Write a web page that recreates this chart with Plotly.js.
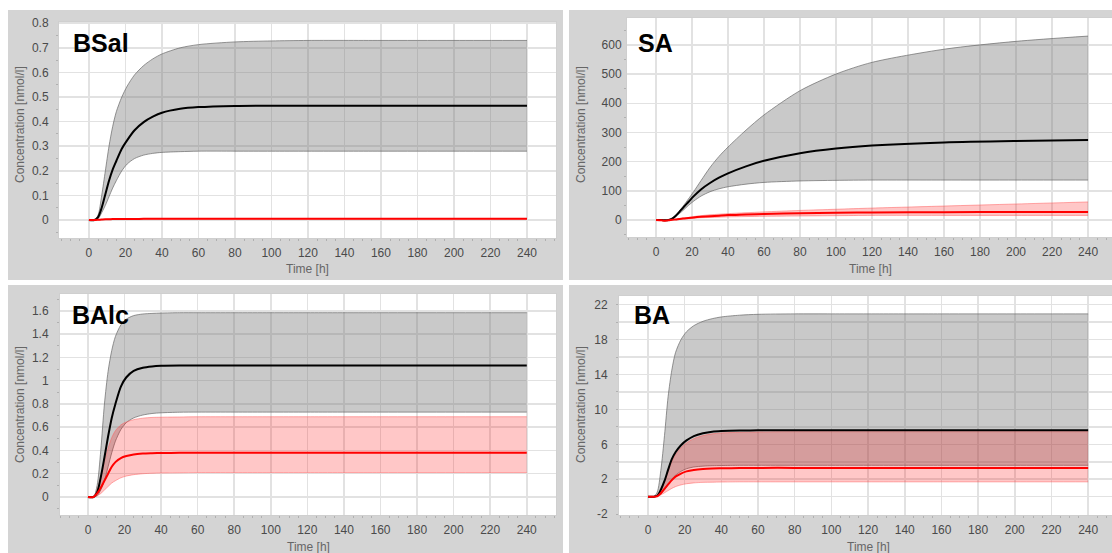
<!DOCTYPE html>
<html>
<head>
<meta charset="utf-8">
<script src="https://cdn.plot.ly/plotly-3.0.1.min.js"></script>
<style>html,body{margin:0;padding:0;background:#fff;}#chart{width:1112px;height:553px;}</style>
</head>
<body>
<div id="chart"></div>
<script>
// Time points [h]
const timeH = [0,3,5,7,9,11,13,15,18,21,25,30,35,40,50,60,80,100,120,160,200,240];

// BSal [nmol/l]
const bsalMean  = [0,0,0.012,0.05,0.105,0.16,0.205,0.24,0.29,0.325,0.365,0.398,0.42,0.436,0.452,0.459,0.464,0.465,0.465,0.465,0.465,0.465];
const bsalUpper = [0,0,0.02,0.1,0.2,0.3,0.38,0.44,0.5,0.545,0.59,0.628,0.655,0.675,0.7,0.713,0.724,0.728,0.73,0.73,0.73,0.73];
const bsalLower = [0,0,0.005,0.03,0.06,0.095,0.13,0.16,0.2,0.228,0.25,0.264,0.271,0.275,0.278,0.28,0.28,0.28,0.28,0.28,0.28,0.28];
const bsalRedMean  = [0,0,0.001,0.002,0.003,0.003,0.004,0.004,0.004,0.004,0.004,0.005,0.005,0.005,0.005,0.005,0.005,0.005,0.005,0.005,0.005,0.005];
const bsalRedUpper = [0,0,0.001,0.002,0.003,0.004,0.005,0.005,0.005,0.005,0.006,0.006,0.006,0.006,0.006,0.006,0.006,0.006,0.006,0.006,0.006,0.006];
const bsalRedLower = [0,0,0.001,0.002,0.002,0.003,0.003,0.003,0.003,0.003,0.004,0.004,0.004,0.004,0.004,0.004,0.004,0.004,0.004,0.004,0.004,0.004];

// SA [nmol/l]
const saMean  = [0,0,-1,0,5,15,28,42,62,82,105,127,145,160,184,203,229,245,255,266,271,274];
const saUpper = [0,0,-1,1,6,17,31,47,72,98,135,180,218,250,308,360,443,500,540,585,612,630];
const saLower = [0,0,-1,0,4,12,22,33,50,65,82,97,107,114,123,129,134,136,137,137,137,137];
const saRedMean  = [0,-1,-2,-1,1,2,4,5,7,9,11,13,15,17,19,21,23,25,26,27,28,28];
const saRedUpper = [0,-1,-2,-1,1,3,5,7,9,12,15,18,20,22,25,28,33,37,41,48,55,62];
const saRedLower = [0,-1,-2,-1,1,2,3,4,5,6,8,9,10,11,12,13,14,15,16,16,16,16];

// BAlc [nmol/l]
const balcMean  = [0,0,0.04,0.17,0.34,0.52,0.68,0.8,0.95,1.03,1.085,1.112,1.123,1.128,1.13,1.13,1.13,1.13,1.13,1.13,1.13,1.13];
const balcUpper = [0,0,0.1,0.4,0.8,1.08,1.26,1.38,1.48,1.53,1.56,1.574,1.579,1.582,1.585,1.585,1.585,1.585,1.585,1.585,1.585,1.585];
const balcLower = [0,0,0.01,0.06,0.14,0.26,0.38,0.48,0.58,0.64,0.68,0.705,0.718,0.724,0.729,0.73,0.73,0.73,0.73,0.73,0.73,0.73];
const balcRedMean  = [0,0,0.03,0.08,0.14,0.2,0.26,0.3,0.335,0.352,0.366,0.373,0.376,0.378,0.38,0.38,0.38,0.38,0.38,0.38,0.38,0.38];
const balcRedUpper = [0,0,0.06,0.17,0.3,0.42,0.51,0.57,0.62,0.645,0.665,0.678,0.684,0.686,0.688,0.69,0.69,0.69,0.69,0.69,0.69,0.69];
const balcRedLower = [0,0,0.01,0.03,0.06,0.09,0.12,0.14,0.165,0.18,0.192,0.2,0.204,0.206,0.208,0.21,0.21,0.21,0.21,0.21,0.21,0.21];

// BA [nmol/l]
const baMean  = [0,0,0.1,0.8,1.8,3.1,4.3,5.1,5.9,6.45,6.95,7.27,7.45,7.52,7.58,7.6,7.6,7.6,7.6,7.6,7.6,7.6];
const baUpper = [0,0,0.5,3,7,11.5,14.5,16.5,18,18.9,19.6,20.1,20.4,20.6,20.8,20.9,20.95,20.95,20.95,20.95,20.95,20.95];
const baLower = [0,0,0.05,0.3,0.8,1.4,2,2.45,2.9,3.2,3.4,3.5,3.55,3.57,3.6,3.6,3.6,3.6,3.6,3.6,3.6,3.6];
const baRedMean  = [0,0,0.05,0.4,0.9,1.4,1.9,2.3,2.65,2.9,3.07,3.18,3.23,3.25,3.28,3.3,3.3,3.3,3.3,3.3,3.3,3.3];
const baRedUpper = [0,0,0.1,0.75,1.7,2.9,4.0,4.8,5.6,6.15,6.65,7.0,7.2,7.3,7.38,7.42,7.45,7.45,7.45,7.45,7.45,7.45];
const baRedLower = [0,0,0.03,0.2,0.45,0.7,0.95,1.15,1.35,1.48,1.58,1.64,1.66,1.68,1.7,1.7,1.7,1.7,1.7,1.7,1.7,1.7];

// BA y-axis ticks (hyphen-minus as in the original)
const baTickVals   = [-2, 2, 6, 10, 14, 18, 22];
const baTickLabels = ['-2', '2', '6', '10', '14', '18', '22'];

const panelNames = ['BSal','SA','BAlc','BA'];
const xTitle = 'Time [h]';
const yTitle = 'Concentration [nmol/l]';

const panels = [
  {xa:'x',  ya:'y',  d:[bsalMean,bsalUpper,bsalLower,bsalRedMean,bsalRedUpper,bsalRedLower]},
  {xa:'x2', ya:'y2', d:[saMean,saUpper,saLower,saRedMean,saRedUpper,saRedLower]},
  {xa:'x3', ya:'y3', d:[balcMean,balcUpper,balcLower,balcRedMean,balcRedUpper,balcRedLower]},
  {xa:'x4', ya:'y4', d:[baMean,baUpper,baLower,baRedMean,baRedUpper,baRedLower]}
];

const traces = [];
const ln = {shape:'spline', smoothing:0.8};
panels.forEach(p => {
  const [m,u,l,rm,ru,rl] = p.d;
  traces.push({x:timeH, y:l, xaxis:p.xa, yaxis:p.ya, mode:'lines', line:Object.assign({color:'rgba(105,105,105,0.7)', width:1}, ln), hoverinfo:'skip', showlegend:false});
  traces.push({x:timeH, y:u, xaxis:p.xa, yaxis:p.ya, mode:'lines', fill:'tonexty', fillcolor:'rgba(120,120,120,0.40)', line:Object.assign({color:'rgba(105,105,105,0.7)', width:1}, ln), hoverinfo:'skip', showlegend:false});
  traces.push({x:timeH, y:rl, xaxis:p.xa, yaxis:p.ya, mode:'lines', line:Object.assign({color:'rgba(255,90,90,0.5)', width:1}, ln), hoverinfo:'skip', showlegend:false});
  traces.push({x:timeH, y:ru, xaxis:p.xa, yaxis:p.ya, mode:'lines', fill:'tonexty', fillcolor:'rgba(255,0,0,0.22)', line:Object.assign({color:'rgba(255,90,90,0.5)', width:1}, ln), hoverinfo:'skip', showlegend:false});
  traces.push({x:timeH, y:m, xaxis:p.xa, yaxis:p.ya, mode:'lines', line:Object.assign({color:'#000000', width:2}, ln), showlegend:false});
  traces.push({x:timeH, y:rm, xaxis:p.xa, yaxis:p.ya, mode:'lines', line:Object.assign({color:'#ff0000', width:2}, ln), showlegend:false});
});

const W = 1112, H = 553;
const px = v => v / W;
const py = v => 1 - v / H;
const tickFont = {family:'Arial, Liberation Sans, sans-serif', size:12, color:'#4a4a4a'};

function xAxis(domain, range, anchor) {
  return {domain, range, anchor, tick0:0, dtick:20, showgrid:true, gridcolor:'#e2e2e2', gridwidth:1.5,
    zeroline:false, showline:true, linecolor:'#cfcfcf', linewidth:1, mirror:true, ticks:'',
    tickfont:tickFont, ticklabelstandoff:4,
    minor:{ticks:'outside', ticklen:2, tickcolor:'#b0b0b0', dtick:5, showgrid:false}, fixedrange:true};
}
function yAxis(domain, range, anchor, tick0, dtick, standoff, minor) {
  const a = {domain, range, anchor, tick0, dtick, showgrid:true, gridcolor:'#e2e2e2', gridwidth:1.5,
    zeroline:false, showline:true, linecolor:'#cfcfcf', linewidth:1, mirror:true, ticks:'',
    tickfont:tickFont, ticklabelstandoff:standoff, fixedrange:true};
  a.minor = minor || {ticks:'outside', ticklen:2, tickcolor:'#b0b0b0', dtick:dtick/2, showgrid:false};
  return a;
}

const gap = '#ffffff';
const shapes = [
  {type:'rect', xref:'paper', yref:'paper', x0:-0.01, x1:px(8), y0:-0.01, y1:1.01, fillcolor:gap, line:{width:0}, layer:'below'},
  {type:'rect', xref:'paper', yref:'paper', x0:-0.01, x1:1.01, y0:py(10), y1:1.01, fillcolor:gap, line:{width:0}, layer:'below'},
  {type:'rect', xref:'paper', yref:'paper', x0:px(563), x1:px(569), y0:-0.01, y1:1.01, fillcolor:gap, line:{width:0}, layer:'below'},
  {type:'rect', xref:'paper', yref:'paper', x0:-0.01, x1:1.01, y0:py(285), y1:py(280), fillcolor:gap, line:{width:0}, layer:'below'}
];

const titleFont = {family:'Arial, Liberation Sans, sans-serif', size:12, color:'#666666'};
const labelFont = {family:'Arial, Liberation Sans, sans-serif', size:25, color:'#000000'};
const ann = (text, x, y, font, extra) => Object.assign({text, x:px(x), y:py(y), xref:'paper', yref:'paper', showarrow:false, font, xanchor:'center', yanchor:'middle'}, extra || {});

const annotations = [
  ann('<b>'+panelNames[0]+'</b>', 71, 43, labelFont, {xanchor:'left'}),
  ann('<b>'+panelNames[1]+'</b>', 636, 43, labelFont, {xanchor:'left'}),
  ann('<b>'+panelNames[2]+'</b>', 70, 315, labelFont, {xanchor:'left'}),
  ann('<b>'+panelNames[3]+'</b>', 632, 315, labelFont, {xanchor:'left'}),
  ann(xTitle, 307, 269, titleFont),
  ann(xTitle, 870, 269, titleFont),
  ann(xTitle, 308, 547, titleFont),
  ann(xTitle, 868, 547, titleFont),
  ann(yTitle, 20, 125, titleFont, {textangle:-90}),
  ann(yTitle, 581, 125, titleFont, {textangle:-90}),
  ann(yTitle, 20, 405, titleFont, {textangle:-90}),
  ann(yTitle, 581, 405, titleFont, {textangle:-90})
];

const yaxis4 = yAxis([py(515), py(296)], [-2.1, 23.0], 'x4', -2, 4, 8, {ticks:'outside', ticklen:2, tickcolor:'#b0b0b0', dtick:2, tick0:0, showgrid:true, gridcolor:'#e2e2e2', gridwidth:1.5});
yaxis4.tickmode = 'array';
yaxis4.tickvals = baTickVals;
yaxis4.ticktext = baTickLabels;

const layout = {
  width:W, height:H, margin:{l:0, r:0, t:0, b:0},
  paper_bgcolor:'#d4d4d4', plot_bgcolor:'#ffffff', showlegend:false,
  xaxis:  xAxis([px(59),  px(556)], [-16.4, 255.9], 'y'),
  yaxis:  yAxis([py(238), py(22)],  [-0.073, 0.805], 'x', 0, 0.1, 7),
  xaxis2: xAxis([px(627), 1],       [-16.1, 253.3], 'y2'),
  yaxis2: yAxis([py(237), py(18)],  [-58, 692], 'x2', 0, 100, 2),
  xaxis3: xAxis([px(60),  px(556)], [-15.3, 256], 'y3'),
  yaxis3: yAxis([py(515), py(294)], [-0.155, 1.746], 'x3', 0, 0.2, 8),
  xaxis4: xAxis([px(619), 1],       [-15.8, 253], 'y4'),
  yaxis4: yaxis4,
  shapes, annotations
};

Plotly.newPlot('chart', traces, layout, {displayModeBar:false, staticPlot:true});
</script>
</body>
</html>
